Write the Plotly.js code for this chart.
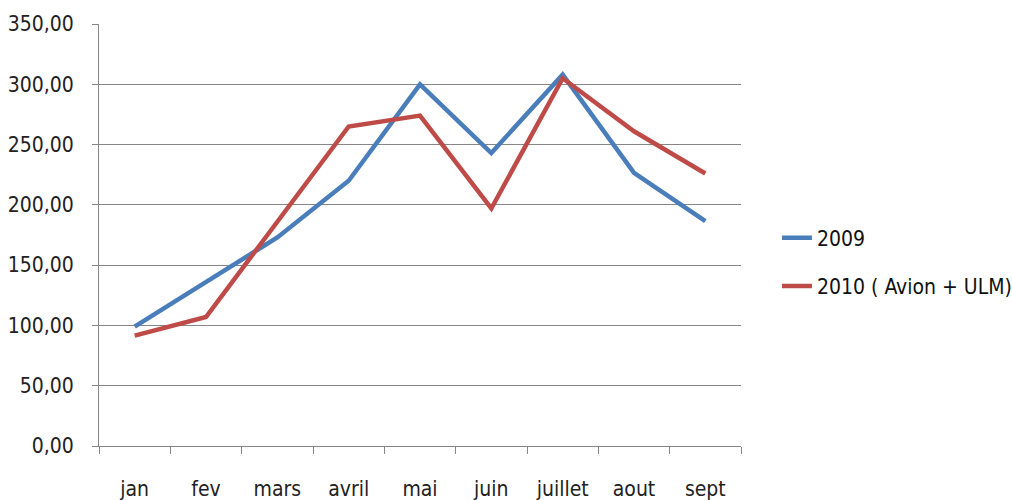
<!DOCTYPE html>
<html>
<head>
<meta charset="utf-8">
<script src="https://cdn.plot.ly/plotly-3.0.1.min.js"></script>
<style>html,body{margin:0;padding:0;background:#fff;overflow:hidden;}#chart{width:1012px;height:500px;}</style>
</head>
<body>
<div id="chart"></div>
<script>
var months = ["jan", "fev", "mars", "avril", "mai", "juin", "juillet", "aout", "sept"];
var values2009 = [99, 135.5, 173, 220, 300, 243, 308, 226.5, 186.5];
var values2010 = [91.5, 107, 186, 265, 274, 197, 305, 261, 226];
var seriesNames = ["2009", "2010 ( Avion + ULM)"];
var yTicks = [0, 50, 100, 150, 200, 250, 300, 350];

var FONT = "Liberation Sans Narrow, Arial Narrow, DejaVu Sans Condensed, sans-serif";

var traces = [
  {x: months, y: values2009, name: seriesNames[0], type: "scatter", mode: "lines",
   line: {color: "#4a7ebb", width: 4.5}, legendgroup: "a"},
  {x: months, y: values2010, name: seriesNames[1], type: "scatter", mode: "lines",
   line: {color: "#be4b48", width: 4.5}, legendgroup: "b"}
];

var layout = {
  width: 1012, height: 500,
  margin: {l: 99, r: 271, t: 24, b: 54, autoexpand: false},
  paper_bgcolor: "#ffffff", plot_bgcolor: "#ffffff",
  font: {family: FONT, size: 21, color: "#333333"},
  showlegend: true,
  legend: {x: 1.056, y: 0.436, xanchor: "left", yanchor: "middle",
           font: {family: FONT, size: 21, color: "#111111"},
           traceorder: "grouped", tracegroupgap: 18, bgcolor: "rgba(0,0,0,0)"},
  xaxis: {type: "category", range: [-0.5, 8.5], tickson: "boundaries",
          ticks: "outside", ticklen: 7, tickcolor: "#868686",
          showline: true, linecolor: "#868686", linewidth: 1,
          showgrid: false, zeroline: false, ticklabelstandoff: 24,
          tickfont: {family: FONT, size: 21, color: "#222222"}, fixedrange: true},
  yaxis: {range: [0, 350], tickvals: yTicks, tickformat: ".2f",
          ticks: "outside", ticklen: 6, tickcolor: "#868686",
          showline: true, linecolor: "#868686", linewidth: 1,
          showgrid: true, gridcolor: "#868686", gridwidth: 1, zeroline: false,
          ticklabelstandoff: 14,
          tickfont: {family: FONT, size: 21, color: "#222222"}, fixedrange: true},
  separators: ", "
};

Plotly.newPlot("chart", traces, layout, {displayModeBar: false, staticPlot: true});
</script>
</body>
</html>
